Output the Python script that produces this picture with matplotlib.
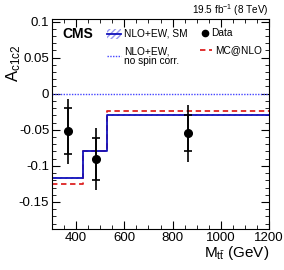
import matplotlib
matplotlib.use("Agg")
import matplotlib.pyplot as plt
import numpy as np
from matplotlib.lines import Line2D
from matplotlib.patches import Rectangle

plt.rcParams['font.family'] = ['Liberation Sans', 'DejaVu Sans']
plt.rcParams['mathtext.fontset'] = 'custom'
plt.rcParams['mathtext.rm'] = 'Liberation Sans'
plt.rcParams['mathtext.it'] = 'Liberation Sans'

bin_edges = [300, 430, 530, 1200]
nlo_sm = [-0.117, -0.079, -0.030]
nlo_sm_unc = [0.0015, 0.0015, 0.0015]
mcatnlo = [-0.125, -0.080, -0.0237]
no_spin = [0.0, 0.0, 0.0]

data_x = [368, 481, 866]
data_y = [-0.052, -0.090, -0.055]
data_stat = [0.032, 0.029, 0.025]
data_tot = [0.045, 0.043, 0.040]

fig = plt.figure(figsize=(2.84, 2.70), dpi=100)
ax = fig.add_axes([52/284, 1-229/270, 217/284, 210/270])

edges = np.array(bin_edges)
def steps(v):
    return np.append(v, v[-1])

sm = np.array(nlo_sm)
unc = np.array(nlo_sm_unc)
ax.fill_between(edges, steps(sm - unc), steps(sm + unc), step='post',
                facecolor='none', edgecolor='#9999ee', hatch='//////', linewidth=0)
ax.step(edges, steps(no_spin), where='post', color='#4444ff', lw=1.0, ls=(0, (1, 1)))
ax.step(edges, steps(np.array(mcatnlo)), where='post', color='#dd2222', lw=1.3, ls=(0, (3, 2)))
ax.step(edges, steps(sm), where='post', color='#1111bb', lw=1.3)

ax.errorbar(data_x, data_y, yerr=data_tot, fmt='o', color='black', ms=5.5,
            elinewidth=1.2, capsize=0)
ax.errorbar(data_x, data_y, yerr=data_stat, fmt='none', ecolor='black',
            elinewidth=1.2, capsize=2.8, capthick=1.2)

ax.set_xlim(300, 1200)
ax.set_ylim(-0.1875, 0.1035)
ax.set_xticks([400, 600, 800, 1000, 1200])
ax.set_yticks([-0.15, -0.1, -0.05, 0, 0.05, 0.1])
ax.set_yticklabels(['-0.15', '-0.1', '-0.05', '0', '0.05', '0.1'])
ax.xaxis.set_minor_locator(matplotlib.ticker.MultipleLocator(50))
ax.yaxis.set_minor_locator(matplotlib.ticker.MultipleLocator(0.01))
ax.tick_params(which='both', direction='in', top=True, right=True, labelsize=9.5, pad=2)
ax.tick_params(which='major', length=6)
ax.tick_params(which='minor', length=3)

ax.set_xlabel(r'M$_{\mathregular{t\bar{t}}}$ (GeV)', fontsize=11, loc='right', labelpad=0)
ax.set_ylabel(r'A$_{\mathregular{c1c2}}$', fontsize=12, loc='top')
ax.yaxis.set_label_coords(-0.135, 0.88)

fig.text(269/284, 1-10/270, r'19.5 fb$^{-1}$ (8 TeV)', ha='right', va='center', fontsize=7.2)

T = ax.transAxes
def ax_xy(px, py):
    return ((px - 52) / 217, (229 - py) / 210)

ax.text(*ax_xy(62, 34), 'CMS', transform=T, fontsize=10, fontweight='bold', va='center')
# legend: NLO+EW, SM
x0, y0 = ax_xy(107, 29)
x1, y1 = ax_xy(121, 39)
ax.add_patch(Rectangle((x0, y1), x1 - x0, y0 - y1, transform=T, facecolor='none',
                       edgecolor='#9999ee', hatch='//////', lw=0))
ax.add_line(Line2D([x0, x1], [ax_xy(0, 34)[1]] * 2, transform=T, color='#1111bb', lw=1.3))
ax.text(*ax_xy(124, 34), 'NLO+EW, SM', transform=T, fontsize=7.3, va='center')
# no spin corr
ax.add_line(Line2D([x0, x1], [ax_xy(0, 56)[1]] * 2, transform=T, color='#4444ff', lw=1.0, ls=(0, (1, 1))))
ax.text(*ax_xy(124, 56), 'NLO+EW,\nno spin corr.', transform=T, fontsize=7.3, va='center', linespacing=0.95)
# Data
ax.add_line(Line2D([ax_xy(205, 0)[0]], [ax_xy(0, 33)[1]], transform=T, color='black',
                   marker='o', ms=4.5, ls='none'))
ax.text(*ax_xy(211, 33), 'Data', transform=T, fontsize=7.3, va='center')
# MC@NLO
ax.add_line(Line2D([ax_xy(200, 0)[0], ax_xy(212, 0)[0]], [ax_xy(0, 50)[1]] * 2, transform=T,
                   color='#dd2222', lw=1.3, ls=(0, (3, 2))))
ax.text(*ax_xy(215, 50), 'MC@NLO', transform=T, fontsize=7.3, va='center')

fig.savefig('out.png', dpi=100)
